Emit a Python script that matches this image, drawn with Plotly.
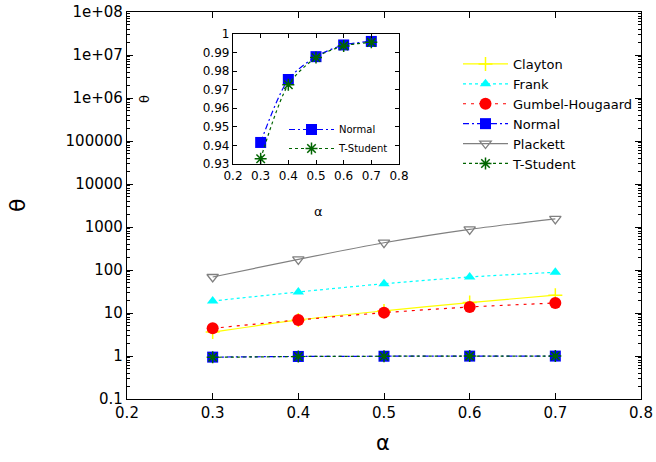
import plotly.graph_objects as go

# ---- data ----
alpha = [0.3, 0.4, 0.5, 0.6, 0.7]
clayton = [3.6, 6.9, 11.2, 17.5, 26.0]
frank = [19.0, 30.8, 48.0, 68.7, 88.5]
gumbel = [4.4, 6.9, 10.2, 13.8, 17.1]
normal = [0.9416, 0.9755, 0.9878, 0.9941, 0.9960]
plackett = [68.7, 177.0, 431.0, 883.0, 1550.0]
tstudent = [0.9328, 0.9727, 0.9873, 0.9936, 0.9955]

y_tickvals = [0.1, 1, 10, 100, 1000, 10000, 100000, 1e6, 1e7, 1e8]
y_ticktext = ["0.1", "1", "10", "100", "1000", "10000", "100000", "1e+06", "1e+07", "1e+08"]
inset_yticks = [0.93, 0.94, 0.95, 0.96, 0.97, 0.98, 0.99, 1.0]
inset_yticktext = ["0.93", "0.94", "0.95", "0.96", "0.97", "0.98", "0.99", "1"]

FONT = "DejaVu Sans"
W, H = 656, 462
L, R, T, B = 127, 15, 12, 63
PW, PH = W - L - R, H - T - B


def px(x):
    return (x - L) / PW


def py(y):
    return (H - B - y) / PH


fig = go.Figure()

main_series = [
    ("Clayton", clayton, "#ffff00", "solid", "cross-thin", 10, dict(color="#ffff00", width=1.5), "#ffff00"),
    ("Frank", frank, "#00ffff", "dot", "triangle-up", 10, dict(width=0), "#00ffff"),
    ("Gumbel-Hougaard", gumbel, "#ff0000", "3px,5px", "circle", 12, dict(width=0), "#ff0000"),
    ("Normal", normal, "#0000ff", "6px,3px,2px,3px", "square", 11, dict(width=0), "#0000ff"),
    ("Plackett", plackett, "#808080", "solid", "triangle-down-open", 10, dict(color="#808080", width=1.3), "#808080"),
    ("T-Student", tstudent, "#006400", "dot", "asterisk", 10, dict(color="#006400", width=1.5), "#006400"),
]

for name, ys, col, dash, sym, size, mline, mcol in main_series:
    fig.add_trace(go.Scatter(
        x=alpha, y=ys, name=name, mode="lines+markers",
        line=dict(color=col, dash=dash, width=1.2, shape="spline", smoothing=0.6),
        marker=dict(symbol=sym, size=size, color=mcol, line=mline),
        xaxis="x", yaxis="y", legend="legend",
    ))

inset_series = [
    ("Normal", normal, "#0000ff", "6px,3px,2px,3px", "square", 11, dict(width=0)),
    ("T-Student", tstudent, "#006400", "dot", "asterisk", 10, dict(color="#006400", width=1.5)),
]
for name, ys, col, dash, sym, size, mline in inset_series:
    fig.add_trace(go.Scatter(
        x=alpha, y=ys, name=name, mode="lines+markers",
        line=dict(color=col, dash=dash, width=1.2, shape="spline", smoothing=0.8),
        marker=dict(symbol=sym, size=size, color=col, line=mline),
        xaxis="x2", yaxis="y2", legend="legend2",
    ))

axis_common = dict(
    showgrid=False, zeroline=False, showline=True, linecolor="black", linewidth=1.3,
    mirror="ticks", ticks="inside", tickcolor="black", automargin=False,
)

fig.update_layout(
    width=W, height=H,
    margin=dict(l=L, r=R, t=T, b=B, autoexpand=False),
    paper_bgcolor="white", plot_bgcolor="white",
    font=dict(family=FONT, color="black"),
    xaxis=dict(
        **axis_common, range=[0.2, 0.8], tickmode="linear", tick0=0.2, dtick=0.1,
        tickformat=".1f", ticklen=6, tickwidth=1, tickfont=dict(size=15, family=FONT),
    ),
    yaxis=dict(
        **axis_common, type="log", range=[-1, 8], tickmode="array",
        tickvals=y_tickvals, ticktext=y_ticktext, ticklen=6, tickwidth=1,
        tickfont=dict(size=15, family=FONT),
        minor=dict(ticks="inside", ticklen=3, tickcolor="black", showgrid=False,
                   tickvals=[k * 10 ** e for e in range(-1, 8) for k in range(2, 10)]),
    ),
    xaxis2=dict(
        **axis_common, domain=[px(233), px(399)], anchor="y2", range=[0.2, 0.8],
        tickmode="linear", tick0=0.2, dtick=0.1, tickformat=".1f", ticklen=4,
        tickwidth=1, tickfont=dict(size=12, family=FONT),
    ),
    yaxis2=dict(
        **axis_common, domain=[py(164), py(34)], anchor="x2", range=[0.93, 1.0],
        tickmode="array", tickvals=inset_yticks, ticktext=inset_yticktext, ticklen=4,
        tickwidth=1, tickfont=dict(size=12, family=FONT),
    ),
    legend=dict(
        x=px(458), y=py(49), xanchor="left", yanchor="top",
        bgcolor="rgba(0,0,0,0)", font=dict(size=13, family=FONT), itemwidth=45,
    ),
    legend2=dict(
        x=px(394), y=py(115), xanchor="right", yanchor="top",
        bgcolor="rgba(0,0,0,0)", font=dict(size=10, family=FONT), itemwidth=45,
    ),
    annotations=[
        dict(text="θ", x=px(18), y=py(206), xref="paper", yref="paper", showarrow=False,
             xanchor="center", yanchor="middle",
             textangle=-90, font=dict(size=22, family=FONT)),
        dict(text="α", x=px(383), y=py(443), xref="paper", yref="paper", showarrow=False,
             xanchor="center", yanchor="middle",
             font=dict(size=21, family=FONT)),
        dict(text="θ", x=px(145), y=py(99), xref="paper", yref="paper", showarrow=False,
             xanchor="center", yanchor="middle",
             textangle=-90, font=dict(size=13, family=FONT)),
        dict(text="α", x=px(318), y=py(212), xref="paper", yref="paper", showarrow=False,
             xanchor="center", yanchor="middle",
             font=dict(size=13, family=FONT)),
    ],
)

fig.write_html("out.html")
